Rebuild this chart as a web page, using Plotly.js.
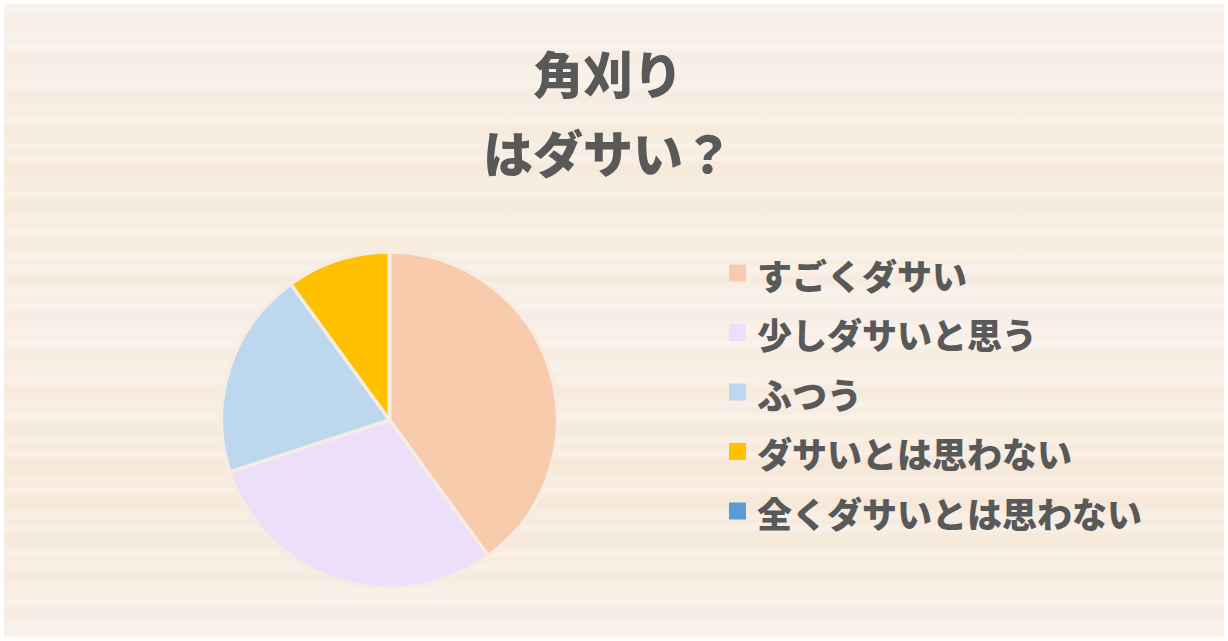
<!DOCTYPE html>
<html>
<head>
<meta charset="utf-8">
<script src="https://cdn.plot.ly/plotly-3.0.1.min.js"></script>
<style>
  html, body { margin: 0; padding: 0; background: #ffffff; }
  #frame {
    position: absolute; left: 4px; top: 4px; width: 1220px; height: 633px;
    background:
      repeating-linear-gradient(180deg,
        rgba(255,255,255,0.0) 0px, rgba(255,255,255,0.3) 6px, rgba(255,255,255,0.0) 11px,
        rgba(240,222,196,0.18) 17px, rgba(255,255,255,0.0) 23px, rgba(255,255,255,0.2) 31px,
        rgba(255,255,255,0.0) 37px),
      linear-gradient(180deg, #f8f0ea 0%, #f6ebdc 30%, #f8efe7 50%, #f6e9da 75%, #f8efe8 100%);
  }
  #chart { position: absolute; left: 0; top: 0; width: 1228px; height: 641px; }
</style>
</head>
<body>
<div id="frame"></div>
<div id="chart"></div>
<script>
// 角刈りはダサい？ — 回答の割合 (%)
const titleLines = ['角刈り', 'はダサい？'];
const labels = ['すごくダサい', '少しダサいと思う', 'ふつう', 'ダサいとは思わない', '全くダサいとは思わない'];
const values = [40, 30, 20, 10, 0];
const colors = ['#f8cbad', '#ecdff9', '#bdd7ee', '#ffc000', '#5b9bd5'];

const W = 1228, H = 641;
const textColor = '#595959';
const jpFont = '"Noto Sans CJK JP", "Noto Sans", sans-serif';

// 凡例は間隔を広げたいので注釈と図形で描く
const legendTop = 273, legendStep = 59.5, sq = 17, sqX = 729;
const annotations = [];
const shapes = [];

titleLines.forEach((t, i) => {
  annotations.push({
    text: t, xref: 'paper', yref: 'paper',
    x: 608 / W, y: 1 - (72 + i * 79) / H,
    xanchor: 'center', yanchor: 'middle', showarrow: false,
    font: { family: jpFont, size: 50, color: textColor, weight: 900 },
  });
});

labels.forEach((lab, i) => {
  const cy = legendTop + i * legendStep;
  shapes.push({
    type: 'rect', xref: 'paper', yref: 'paper',
    x0: sqX / W, x1: (sqX + sq) / W,
    y0: 1 - (cy - sq / 2) / H, y1: 1 - (cy + sq / 2) / H,
    fillcolor: colors[i], line: { width: 0 },
  });
  annotations.push({
    text: lab, xref: 'paper', yref: 'paper',
    x: 755 / W, y: 1 - (cy + 1) / H,
    xanchor: 'left', yanchor: 'middle', showarrow: false,
    font: { family: jpFont, size: 35, color: textColor, weight: 900 },
  });
});

const cx = 389.5, cyPie = 420, r = 168;

const trace = {
  type: 'pie',
  labels: labels,
  values: values,
  sort: false,
  direction: 'clockwise',
  rotation: 0,
  textinfo: 'none',
  hoverinfo: 'label+percent',
  marker: { colors: colors, line: { color: '#f6ece2', width: 3.5 } },
  domain: {
    x: [(cx - r) / W, (cx + r) / W],
    y: [1 - (cyPie + r) / H, 1 - (cyPie - r) / H],
  },
  showlegend: false,
};

const layout = {
  width: W, height: H,
  margin: { t: 0, r: 0, b: 0, l: 0 },
  paper_bgcolor: 'rgba(0,0,0,0)',
  plot_bgcolor: 'rgba(0,0,0,0)',
  font: { family: jpFont, color: textColor },
  showlegend: false,
  annotations: annotations,
  shapes: shapes,
};

Plotly.newPlot('chart', [trace], layout, { displayModeBar: false, staticPlot: true });
</script>
</body>
</html>
